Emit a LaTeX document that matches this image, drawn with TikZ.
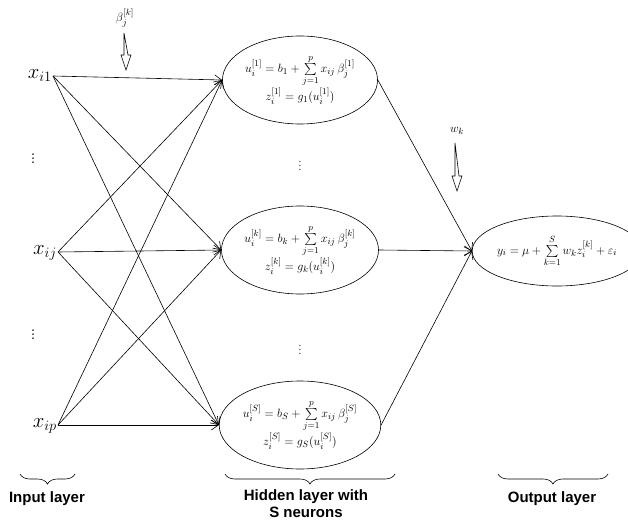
\documentclass[tikz,border=0pt]{standalone}
\usepackage{amsmath}
\usepackage{fontspec}
\newfontfamily\labelfont{Liberation Sans}
\usetikzlibrary{arrows.meta,shapes.geometric,decorations.pathreplacing}

\begin{document}
\begin{tikzpicture}[
		x=1pt, y=-1pt,
		line width=0.6pt,
		every node/.style={inner sep=1pt},
		inputvar/.style={anchor=mid east, font=\fontsize{20}{24}\selectfont},
		neuron/.style={draw, ellipse, minimum width=138pt, minimum height=88pt, inner sep=0pt, align=center, font=\fontsize{13}{17}\selectfont},
		outnode/.style={neuron, minimum width=140pt, minimum height=70pt},
		link/.style={-{Straight Barb[length=7pt,width=10pt]}},
		weight/.style={font=\fontsize{13}{15}\selectfont},
		layer brace/.style={decorate, decoration={brace, mirror, amplitude=10pt}},
		layer label/.style={font=\labelfont\bfseries\fontsize{15}{17}\selectfont, align=center},
		pics/hollow arrow/.style={code={
			\draw (-2,0) -- (-2,#1) -- (-5,#1) -- (0,#1+15) -- (5,#1) -- (2,#1) -- cycle;
		}}
		]
	\useasboundingbox (0,0) rectangle (628,521);
	
	% Input layer
	\node[inputvar] (xi1) at (53, 76) {$x_{i1}$};
	\node[inputvar] (xij) at (58, 252) {$x_{ij}$};
	\node[inputvar] (xip) at (58, 425) {$x_{ip}$};
	\node[font=\fontsize{20}{24}\selectfont] (idots1) at (33, 156) {$\vdots$};
	\node[font=\fontsize{20}{24}\selectfont] (idots2) at (33, 332) {$\vdots$};
	
	% Hidden layer
	\node[neuron] (h1) at (300, 80) {$u_i^{[1]} = b_1 + \sum\limits_{j=1}^{p} x_{ij}\,\beta_j^{[1]}$\\ $z_i^{[1]} = g_1(u_i^{[1]})$};
	\node[neuron] (hk) at (300, 250) {$u_i^{[k]} = b_k + \sum\limits_{j=1}^{p} x_{ij}\,\beta_j^{[k]}$\\ $z_i^{[k]} = g_k(u_i^{[k]})$};
	\node[neuron] (hS) at (300, 425) {$u_i^{[S]} = b_S + \sum\limits_{j=1}^{p} x_{ij}\,\beta_j^{[S]}$\\ $z_i^{[S]} = g_S(u_i^{[S]})$};
	\node[font=\fontsize{12}{14}\selectfont] (hdots1) at (300, 163) {$\vdots$};
	\node[font=\fontsize{12}{14}\selectfont] (hdots2) at (300, 347) {$\vdots$};
	
	% Output layer
	\node[outnode] (out) at (557, 251) {$y_i = \mu + \sum\limits_{k=1}^{S} w_k z_i^{[k]} + \varepsilon_i$};
	
	% Input to hidden
	\foreach \i in {xi1, xij, xip}{
		\foreach \h in {h1, hk, hS}{
			\draw[link] (\i.mid east) -- (\h.west);
		}
	}
	
	% Hidden to output
	\foreach \h in {h1, hk, hS}{
		\draw[link] (\h.east) -- (out.west);
	}
	
	% Weights
	\node[weight] (beta) at (125, 18) {$\beta_j^{[k]}$};
	\pic at (126, 33) {hollow arrow=22};
	\node[weight] (wk) at (457, 131) {$w_k$};
	\pic at (457, 143) {hollow arrow=33};
	
	% Braces with labels
	\coordinate (inL) at (20, 474);
	\coordinate (inR) at (75, 474);
	\coordinate (hidL) at (225, 474);
	\coordinate (hidR) at (395, 474);
	\coordinate (outL) at (498, 474);
	\coordinate (outR) at (608, 474);
	\draw[layer brace] (inL) -- (inR);
	\draw[layer brace] (hidL) -- (hidR);
	\draw[layer brace] (outL) -- (outR);
	\node[layer label] (inlab) at (47, 499) {Input layer};
	\node[layer label] (hidlab) at (306, 504) {Hidden layer with\\S neurons};
	\node[layer label] (outlab) at (552, 499) {Output layer};
	
\end{tikzpicture}
\end{document}
